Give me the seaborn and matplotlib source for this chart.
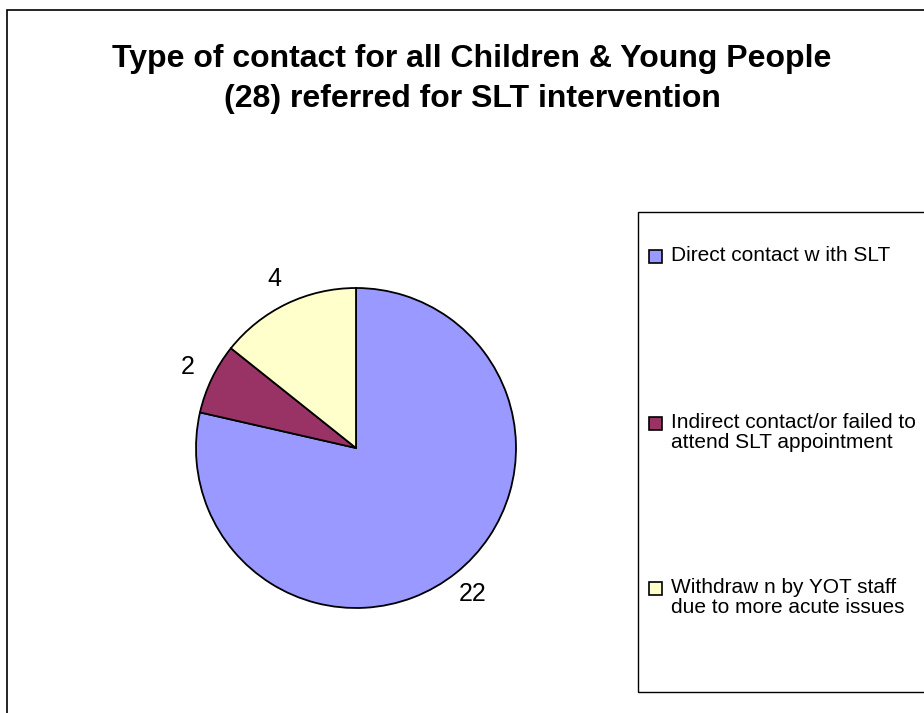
import matplotlib
matplotlib.use("Agg")
import matplotlib.pyplot as plt
from matplotlib.patches import Rectangle
import numpy as np
import seaborn as sns

# Referral outcomes for the 28 children & young people
categories = [
    "Direct contact w ith SLT",
    "Indirect contact/or failed to\nattend SLT appointment",
    "Withdraw n by YOT staff\ndue to more acute issues",
]
counts = [22, 2, 4]
slice_colors = ["#9999FF", "#993366", "#FFFFCC"]
title = "Type of contact for all Children & Young People\n(28) referred for SLT intervention"

sns.set_theme(style="white")
plt.rcParams["font.family"] = ["Liberation Sans", "DejaVu Sans"]
plt.rcParams["text.color"] = "black"

W, H = 924, 713
fig = plt.figure(figsize=(W / 100, H / 100), dpi=100)
fig.patch.set_facecolor("white")

def fx(px):
    return px / W

def fy(py):
    return 1 - py / H

# outer chart frame (runs off the right and bottom edges)
fig.patches.append(Rectangle((fx(7.5), fy(H + 20)), 1.2, (H + 20 - 10) / H,
                             transform=fig.transFigure, fill=False,
                             edgecolor="black", linewidth=1.2))

fig.text(fx(472), fy(79), title, ha="center", va="center",
         fontsize=23, fontweight="bold", linespacing=1.4, color="black")

# pie area: centre (356, 448), radius 160 px
cx, cy, r = 356, 448, 160
ax = fig.add_axes([fx(cx - r), fy(cy + r), 2 * r / W, 2 * r / H])
palette = sns.color_palette(slice_colors)
wedges, texts = ax.pie(counts, colors=palette, startangle=90, counterclock=False,
                       labels=[str(c) for c in counts], labeldistance=1.17,
                       wedgeprops=dict(edgecolor="black", linewidth=1.3),
                       textprops=dict(fontsize=18, color="black"))
for t in texts:
    t.set_ha("center")
    t.set_va("center")
    t.set_clip_on(False)
ax.set_xlim(-1, 1)
ax.set_ylim(-1, 1)
ax.set_aspect("equal")
ax.axis("off")

# legend box (runs off the right edge)
fig.patches.append(Rectangle((fx(637.5), fy(692)), 1.0, (692 - 212) / H,
                             transform=fig.transFigure, fill=False,
                             edgecolor="black", linewidth=1.0))
first_line_top = [249, 416, 581]
for top, lab, col in zip(first_line_top, categories, palette):
    fig.patches.append(Rectangle((fx(649), fy(top + 14)), 13 / W, 13 / H,
                                 transform=fig.transFigure, facecolor=col,
                                 edgecolor="black", linewidth=1.2))
    fig.text(fx(671), fy(top - 3), lab, ha="left", va="top",
             fontsize=15, linespacing=1.05, color="black")

fig.savefig("out.png", dpi=100, facecolor="white")
